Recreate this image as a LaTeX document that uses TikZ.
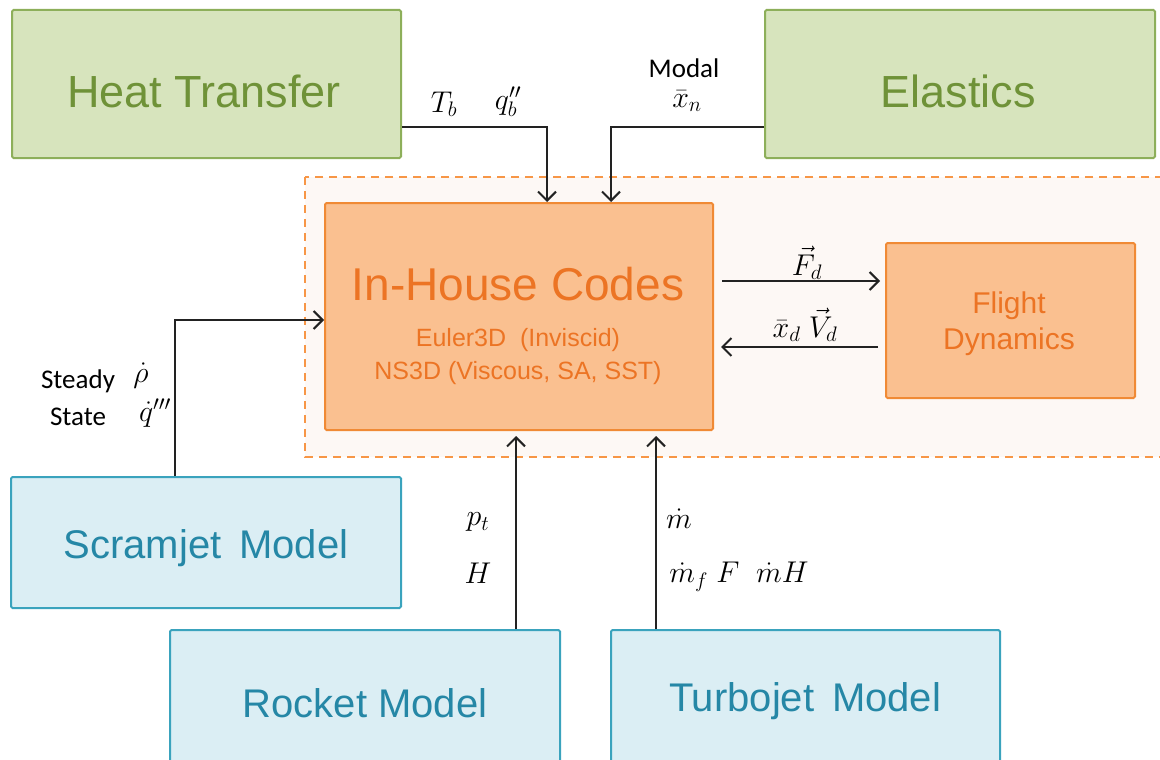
\documentclass[tikz,border=0pt]{standalone}
\usepackage{fix-cm}
\usepackage{fontspec}
\setmainfont{Liberation Sans}
\newfontfamily\calib{Carlito}
\usetikzlibrary{arrows.meta}
\definecolor{gfill}{HTML}{D7E4BD}
\definecolor{gdraw}{HTML}{8DAF5A}
\definecolor{gtext}{HTML}{6F9238}
\definecolor{bfill}{HTML}{DBEEF4}
\definecolor{bdraw}{HTML}{3AA3BD}
\definecolor{btext}{HTML}{2587A6}
\definecolor{ofill}{HTML}{FAC090}
\definecolor{odraw}{HTML}{F08A35}
\definecolor{otext}{HTML}{EC7424}
\definecolor{dashc}{HTML}{F79646}
\definecolor{regfill}{HTML}{FDF8F5}
\definecolor{linec}{HTML}{222222}
\begin{document}
\begin{tikzpicture}[x=1pt,y=-1pt,
  box/.style={draw, line width=2pt, inner sep=0pt, rounded corners=1.5pt},
  gbox/.style={box, fill=gfill, draw=gdraw},
  bbox/.style={box, fill=bfill, draw=bdraw},
  obox/.style={box, fill=ofill, draw=odraw},
  gt/.style={text=gtext, font=\fontsize{45}{50}\selectfont, inner sep=0pt},
  bt/.style={text=btext, font=\fontsize{40}{46}\selectfont, inner sep=0pt},
  arr/.style={draw=linec, line width=2pt, -{Straight Barb[length=9pt,width=18pt,line width=2pt]}},
  lab/.style={font=\fontsize{30}{34}\selectfont, inner sep=0pt},
  clab/.style={font=\calib\fontsize{27}{30}\selectfont, inner sep=0pt}]
\useasboundingbox (0,0) rectangle (1160,760);
% region
\draw[dashc, fill=regfill, line width=2pt, dash pattern=on 8pt off 6pt] (305,177) rectangle (1175,457);
% boxes
\node[gbox, minimum width=389pt, minimum height=148pt] (ht) at (206.5,84) {};
\node[gt] (htT) at (204,91) {Heat Transfer};
\node[gbox, minimum width=390pt, minimum height=148pt] (el) at (960,84) {};
\node[gt] (elT) at (958,91) {Elastics};
\node[obox, minimum width=388pt, minimum height=227pt] (ihc) at (519,316.5) {};
\node[text=otext, font=\fontsize{46}{50}\selectfont, inner sep=0pt] (ihcT) at (518,284) {In-House Codes};
\node[text=otext, font=\fontsize{25}{33}\selectfont, inner sep=0pt, align=center] (ihcS) at (518,357) {Euler3D\ \ (Inviscid)\\NS3D (Viscous, SA, SST)};
\node[obox, minimum width=249pt, minimum height=155pt] (fd) at (1010.5,320.5) {};
\node[text=otext, font=\fontsize{30}{36}\selectfont, inner sep=0pt, align=center] (fdT) at (1009,324) {Flight\\Dynamics};
\node[bbox, minimum width=390pt, minimum height=131pt] (sj) at (206,542.5) {};
\node[bt] (sjT) at (206,548) {Scramjet\ \,Model};
\node[bbox, minimum width=390pt, minimum height=150pt] (rk) at (365,705) {};
\node[bt] (rkT) at (365,703) {Rocket Model};
\node[bbox, minimum width=389pt, minimum height=150pt] (tj) at (805.5,705) {};
\node[bt] (tjT) at (805,701) {Turbojet\ \,Model};
% connectors
\draw[arr] ([yshift=-43pt]ht.east) -| ([xshift=28pt]ihc.north);
\draw[arr] ([yshift=-43pt]el.west) -| ([xshift=92pt]ihc.north);
\coordinate (fa) at (722,281);
\draw[arr] (fa) -- ([xshift=-5pt]fa -| fd.west);
\coordinate (fb) at (878,347);
\draw[arr] (fb) -- ([xshift=7pt]fb -| ihc.east);
\draw[arr] ([xshift=-31pt]sj.north) |- ([yshift=-3.5pt]ihc.west);
\draw[arr] ([xshift=151pt]rk.north) -- ([xshift=151pt,yshift=-5pt]rk.north |- ihc.south);
\draw[arr] ([xshift=-149.5pt]tj.north) -- ([xshift=-149.5pt,yshift=-5pt]tj.north |- ihc.south);
% labels
\node[lab] (l1) at (444,104) {$T_b$};
\node[lab] (l2) at (508,102) {$q''_b$};
\node[clab] (l3) at (684,68) {Modal};
\node[lab] (l4) at (687,101) {$\bar{x}_n$};
\node[lab] (l5) at (807,263) {$\vec{F}_d$};
\node[lab] (l6) at (805,325) {$\bar{x}_d\;\vec{V}_d$};
\node[clab] (l7) at (78,381) {Steady};
\node[clab] (l8) at (78,417) {State};
\node[lab] (l9) at (141,376) {$\dot{\rho}$};
\node[lab] (l10) at (155,413) {$\dot{q}'''$};
\node[lab] (l11) at (478,522) {$p_t$};
\node[lab] (l12) at (478,573) {$H$};
\node[lab] (l13) at (679,519) {$\dot{m}$};
\node[lab] (l14) at (739,577) {$\dot{m}_f\;F\;\;\dot{m}H$};
\end{tikzpicture}
\end{document}
